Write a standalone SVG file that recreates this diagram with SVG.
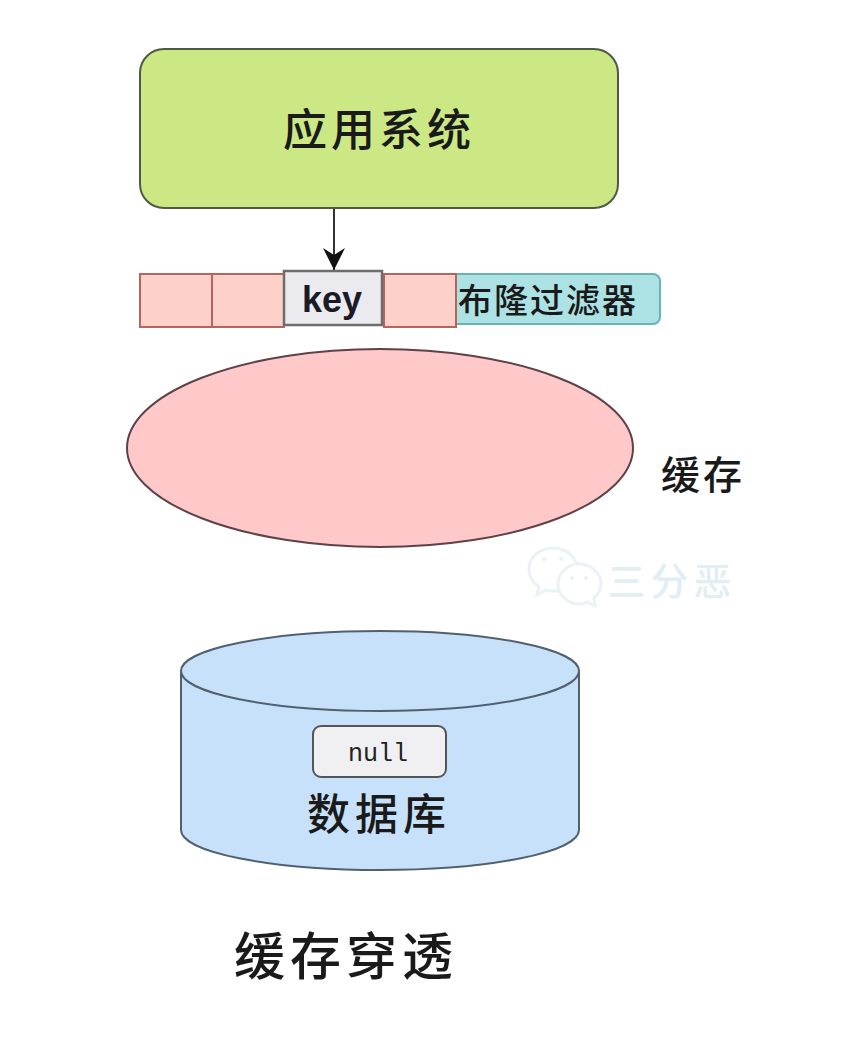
<svg xmlns="http://www.w3.org/2000/svg" width="844" height="1039" viewBox="0 0 844 1039">
<style>
.cjk{font-family:"Noto Sans CJK SC","Noto Sans",sans-serif;fill:#1a1a1a;text-anchor:middle;font-weight:500}
.cell{fill:#fdd0c9;stroke:#b8635c;stroke-width:2}
.edge{fill:none;stroke:#333;stroke-width:2}
.bubble{fill:#fff;stroke:#d5e8ee;stroke-width:3}
.eye{fill:#d5e8ee}
</style>
<defs>
<marker id="arrow" markerUnits="userSpaceOnUse" markerWidth="24" markerHeight="24" refX="22" refY="11" orient="auto"><path d="M0 0 L22 11 L0 22 L7 11 Z" fill="#111"/></marker>
</defs>
<rect width="844" height="1039" fill="#fff"/>
<g id="app">
<rect x="140" y="49" width="478" height="159" rx="24" fill="#cbe885" stroke="#4f5a44" stroke-width="2"/>
<text class="cjk" x="379" y="146" font-size="44" letter-spacing="4">应用系统</text>
</g>
<g id="bloom-filter">
<rect x="440" y="274" width="220" height="50" rx="7" fill="#ade2e4" stroke="#6bb2b4" stroke-width="2"/>
<rect class="cell" x="140" y="274" width="72" height="53"/>
<rect class="cell" x="212" y="274" width="72" height="53"/>
<rect class="cell" x="384" y="274" width="72" height="53"/>
<text class="cjk" x="548" y="313" font-size="34" letter-spacing="2">布隆过滤器</text>
</g>
<g id="key">
<rect x="284" y="271" width="98" height="54" fill="#ebebef" stroke="#6d6d6d" stroke-width="2.5"/>
<text x="332" y="312" font-size="36" font-weight="700" text-anchor="middle" fill="#1b1b28" font-family="'Liberation Sans',Arial,sans-serif">key</text>
</g>
<g id="cache">
<ellipse cx="380" cy="448" rx="253" ry="99" fill="#ffc9c9" stroke="#5f4248" stroke-width="2"/>
<text class="cjk" x="703" y="489" font-size="39" letter-spacing="3">缓存</text>
</g>
<g id="watermark" opacity="0.5">
<path class="bubble" d="M553 548 C540 548 529 557 529 569 C529 577 533 583 539 587 L537 595 L546 590 C549 591 552 591 556 591 C570 591 577 580 577 569 C577 557 566 548 553 548 Z"/>
<path class="bubble" d="M579 564 C568 564 558 573 558 584 C558 595 568 604 579 604 C582 604 585 603 587 602 L595 606 L594 598 C598 594 601 590 601 584 C601 573 591 564 579 564 Z"/>
<circle class="eye" cx="544" cy="559" r="2"/><circle class="eye" cx="561" cy="559" r="2"/>
<circle class="eye" cx="572" cy="578" r="2"/><circle class="eye" cx="586" cy="578" r="2"/>
<text x="672" y="595" font-size="38" letter-spacing="5" text-anchor="middle" fill="#c6dfec" font-family="'Noto Sans CJK SC','Noto Sans',sans-serif" font-weight="500">三分恶</text>
</g>
<g id="database">
<path d="M181 671 V830 C181 852 270 870 380 870 C490 870 579 852 579 830 V671" fill="#c7e1fb" stroke="#52606e" stroke-width="2"/>
<ellipse cx="380" cy="671" rx="199" ry="40" fill="#c7e1fb" stroke="#52606e" stroke-width="2"/>
<text class="cjk" x="379" y="830" font-size="43" letter-spacing="5">数据库</text>
</g>
<g id="null">
<rect x="313" y="726" width="133" height="51" rx="8" fill="#f0f0f2" stroke="#555" stroke-width="2"/>
<text x="378" y="761" font-size="25" text-anchor="middle" fill="#222" font-family="'Liberation Mono','Courier New',monospace">null</text>
</g>
<g id="title">
<text class="cjk" x="346" y="975" font-size="51" letter-spacing="5">缓存穿透</text>
</g>
<g id="connectors">
<path class="edge" d="M334 209 V270" marker-end="url(#arrow)"/>
</g>
</svg>
